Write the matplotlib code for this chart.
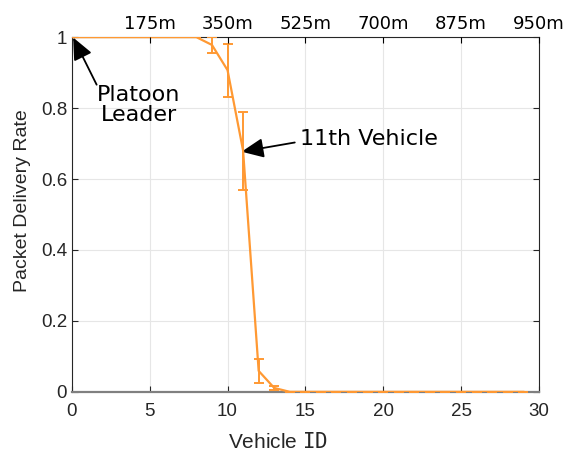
import numpy as np
import matplotlib.pyplot as plt

vehicle_id = list(range(30))
pdr = [1, 1, 1, 1, 1, 1, 1, 1, 1, 0.978, 0.907, 0.68, 0.059, 0.011,
       0, 0, 0, 0, 0, 0, 0, 0, 0, 0, 0, 0, 0, 0, 0, 0]
pdr_err = [0, 0, 0, 0, 0, 0, 0, 0, 0, 0.022, 0.075, 0.11, 0.035, 0.005,
           0, 0, 0, 0, 0, 0, 0, 0, 0, 0, 0, 0, 0, 0, 0, 0]
top_ticks = [5, 10, 15, 20, 25, 30]
top_labels = ['175m', '350m', '525m', '700m', '875m', '950m']

orange = '#ff9933'
dark = '#262626'

plt.rcParams['font.family'] = ['Liberation Sans', 'DejaVu Sans']
plt.rcParams['mathtext.fontset'] = 'dejavusans'

fig = plt.figure(figsize=(5.66, 4.53), dpi=100)
ax = fig.add_axes([0.127, 0.135, 0.825, 0.783])

ax.errorbar(vehicle_id, pdr, yerr=pdr_err, color=orange, lw=1.6,
            elinewidth=1.4, capsize=3.5, capthick=1.4, zorder=3)

ax.set_xlim(0, 30)
ax.set_ylim(0, 1)
ax.set_xticks(range(0, 31, 5))
ax.set_yticks([0, 0.2, 0.4, 0.6, 0.8, 1])
ax.set_yticklabels(['0', '0.2', '0.4', '0.6', '0.8', '1'])
ax.grid(True, color='#e6e6e6', lw=0.8)
ax.set_axisbelow(True)
ax.tick_params(direction='in', labelsize=13.5, colors=dark, length=4,
               right=True, top=False)
ax.tick_params(axis='x', pad=8)
for s in ['left', 'right', 'top']:
    ax.spines[s].set_color(dark)
ax.spines['bottom'].set_color('#808080')
ax.spines['bottom'].set_linewidth(1.6)

ax.set_xlabel(r'Vehicle $\mathtt{ID}$', fontsize=15, color=dark)
ax.xaxis.set_label_coords(0.441, -0.112)
ax.set_ylabel('Packet Delivery Rate', fontsize=14, color=dark)
ax.yaxis.set_label_coords(-0.087, 0.538)

# distance axis on top
ax2 = ax.twiny()
ax2.set_xlim(0, 30)
ax2.set_xticks(top_ticks)
ax2.set_xticklabels(top_labels, fontfamily='DejaVu Sans', fontsize=13)
ax2.tick_params(direction='in', length=4, pad=3)
for s in ax2.spines.values():
    s.set_visible(False)

arrow = dict(arrowstyle='-|>,head_length=0.9,head_width=0.4', color='black',
             lw=1.3, mutation_scale=15, shrinkA=0, shrinkB=0)
ax.annotate('', xy=(0.08, 0.999), xytext=(1.59, 0.866), arrowprops=arrow)
ax.text(4.3, 0.865, 'Platoon\nLeader', ha='center', va='top',
        fontfamily='DejaVu Sans', fontsize=16, linespacing=1.0)
ax.annotate('', xy=(10.9, 0.677), xytext=(14.32, 0.703), arrowprops=arrow)
ax.text(14.65, 0.713, '11th Vehicle', ha='left', va='center',
        fontfamily='DejaVu Sans', fontsize=16)

fig.savefig('out.png', dpi=100)
